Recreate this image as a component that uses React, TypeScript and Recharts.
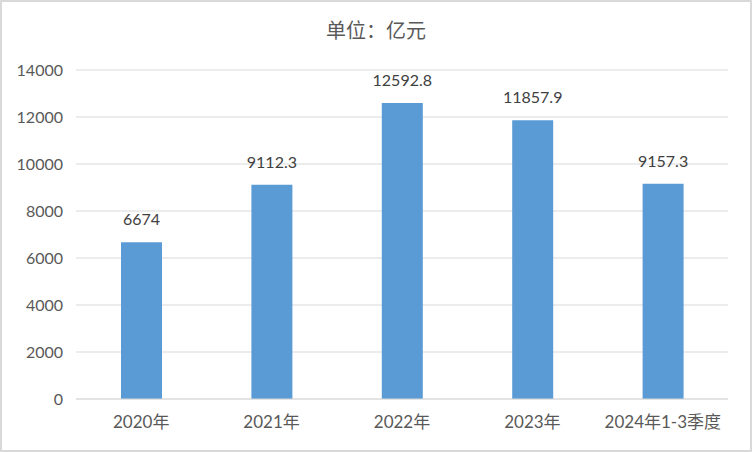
import React from "react";
import { BarChart, Bar, XAxis, YAxis, CartesianGrid, LabelList } from "recharts";

const categories = ["2020年", "2021年", "2022年", "2023年", "2024年1-3季度"];
const values = [6674, 9112.3, 12592.8, 11857.9, 9157.3];
const yTicks = [0, 2000, 4000, 6000, 8000, 10000, 12000, 14000];

const data = categories.map((name, i) => ({ name, value: values[i] }));

const FONT = "Lato, 'Noto Sans CJK SC', sans-serif";

export default function App() {
  return (
    <div
      style={{
        position: "absolute",
        left: 0,
        top: 0,
        width: 752,
        height: 452,
        background: "#fff",
        fontFamily: FONT,
      }}
    >
      <div
        style={{
          position: "absolute",
          top: 17,
          left: 0,
          width: 752,
          textAlign: "center",
          fontSize: 20,
          lineHeight: "26px",
          color: "#595959",
          fontFamily: "'Noto Sans CJK SC', sans-serif",
        }}
      >
        单位：亿元
      </div>
      <BarChart
        width={752}
        height={452}
        data={data}
        margin={{ top: 70, right: 24, bottom: 23, left: 0 }}
        style={{ position: "absolute", left: 0, top: 0 }}
      >
        <CartesianGrid vertical={false} stroke="#d9d9d9" />
        <XAxis
          dataKey="name"
          height={30}
          axisLine={{ stroke: "#d9d9d9" }}
          tickLine={false}
          tickSize={0}
          tickMargin={17}
          interval={0}
          tick={{ fontSize: 17, fill: "#595959", fontFamily: FONT }}
        />
        <YAxis
          width={76}
          domain={[0, 14000]}
          ticks={yTicks}
          axisLine={false}
          tickLine={false}
          tickSize={0}
          tickMargin={13}
          tick={{ fontSize: 16, fill: "#595959", fontFamily: FONT }}
        />
        <Bar dataKey="value" fill="#5b9bd5" barSize={41} isAnimationActive={false}>
          <LabelList
            dataKey="value"
            position="top"
            offset={17}
            style={{ fontSize: 16, fill: "#404040", fontFamily: FONT }}
          />
        </Bar>
      </BarChart>
      <div
        style={{
          position: "absolute",
          left: 0,
          top: 0,
          width: 752,
          height: 452,
          boxSizing: "border-box",
          border: "2px solid #d9d9d9",
          pointerEvents: "none",
        }}
      />
    </div>
  );
}
